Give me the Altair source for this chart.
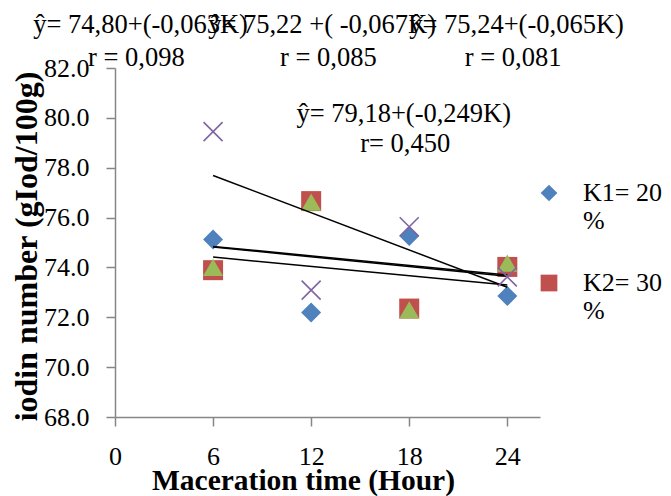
import altair as alt
import pandas as pd

# ---- data ----
hours = [6, 12, 18, 24]
series_names = ["K1= 20 %", "K2= 30 %", "K3= 40 %", "K4= 50 %"]
k1 = [75.12, 72.19, 75.26, 72.85]
k2 = [73.89, 76.66, 72.35, 74.02]
k3 = [74.00, 76.62, 72.30, 74.17]
k4 = [79.45, 73.09, 75.63, 73.62]
colors = ["#4F81BD", "#C0504D", "#9BBB59", "#8064A2"]
x_path = "M-1,-1L1,1M-1,1L1,-1"
shapes = ["diamond", "square", "triangle-up", x_path]

y_ticks = [68, 70, 72, 74, 76, 78, 80, 82]
x_ticks = [0, 6, 12, 18, 24]

# regression annotations (text, anchor in data units)
ann_text = ["ŷ= 74,80+(-0,063K)", "ŷ= 75,22 +( -0,067K)", "ŷ= 75,24+(-0,065K)",
            "r = 0,098", "r = 0,085", "r = 0,081",
            "ŷ= 79,18+(-0,249K)", "r= 0,450"]
ann_x = [-5.0, 5.7, 18.0, -1.65, 10.1, 21.4, 11.1, 15.0]
ann_y = [83.4, 83.4, 83.4, 82.1, 82.1, 82.1, 79.83, 78.63]

rows = []
for name, vals in zip(series_names, [k1, k2, k3, k4]):
    for h, v in zip(hours, vals):
        rows.append({"series": name, "hour": h, "value": v})
df = pd.DataFrame(rows)
ann = pd.DataFrame({"text": ann_text, "hour": ann_x, "value": ann_y})

FONT = "Liberation Serif"

xscale = alt.Scale(domain=[0, 26], nice=False, zero=False)
yscale = alt.Scale(domain=[68, 82], nice=False, zero=False)

xenc = alt.X("hour:Q", scale=xscale, axis=alt.Axis(
    values=x_ticks, title="Maceration time (Hour)", grid=False,
    domainColor="#868686", domainWidth=1.5, tickColor="#868686", tickWidth=1.5,
    tickSize=9, labelFont=FONT, labelFontSize=26, labelColor="black",
    labelBaseline="alphabetic", labelPadding=38, labelFlush=False,
    titleFont=FONT, titleFontSize=29.5, titleFontWeight="bold", titleColor="black",
    titleX=188, titleY=72, titleBaseline="alphabetic", titleAlign="center"))
yenc = alt.Y("value:Q", scale=yscale, axis=alt.Axis(
    values=y_ticks, format=".1f", title="iodin number (gIod/100g)", grid=False,
    domainColor="#868686", domainWidth=1.5, tickColor="#868686", tickWidth=1.5,
    tickSize=9, labelFont=FONT, labelFontSize=26, labelColor="black",
    labelPadding=17, labelFlush=False,
    titleFont=FONT, titleFontSize=32, titleFontWeight="bold", titleColor="black",
    titleX=-72, titleY=178, titleAngle=270, titleAlign="center",
    titleBaseline="bottom"))

legend = alt.Legend(
    title=None, values=series_names[:2], orient="none", legendX=421, legendY=112,
    labelFont=FONT, labelFontSize=26, labelColor="black", symbolSize=280,
    symbolStrokeWidth=0, labelOffset=21, rowPadding=36, padding=0,
    labelExpr="[replace(datum.label, ' %', ''), '%']", labelBaseline="middle",
    labelLimit=200)

base = alt.Chart(df)

filled_pts = base.transform_filter(
    alt.datum.series != series_names[3]
).mark_point(filled=True, opacity=1, size=400).encode(
    x=xenc, y=yenc,
    color=alt.Color("series:N", scale=alt.Scale(domain=series_names, range=colors), legend=legend),
    shape=alt.Shape("series:N", scale=alt.Scale(domain=series_names, range=shapes), legend=legend),
)

x_pts = base.transform_filter(
    alt.datum.series == series_names[3]
).mark_point(shape=x_path, filled=False, color=colors[3], strokeWidth=1.6, size=361, opacity=1).encode(
    x=xenc, y=yenc)

trend = base.transform_regression(
    "hour", "value", groupby=["series"], extent=[6, 24]
).mark_line(color="black", strokeWidth=1.5).encode(
    x=xenc, y=yenc, detail="series:N")

labels = alt.Chart(ann).mark_text(
    align="left", baseline="alphabetic", font=FONT, fontSize=26.5, color="black"
).encode(x=alt.X("hour:Q", scale=xscale), y=alt.Y("value:Q", scale=yscale), text="text:N")

chart = alt.layer(filled_pts, trend, x_pts, labels).properties(
    width=425, height=349,
    autosize=alt.AutoSizeParams(type="none"),
    padding={"left": 107, "top": 60, "right": 123, "bottom": 90},
).configure_view(stroke=None)

chart.save("out.html", embed_options={"renderer": "svg", "actions": False})
